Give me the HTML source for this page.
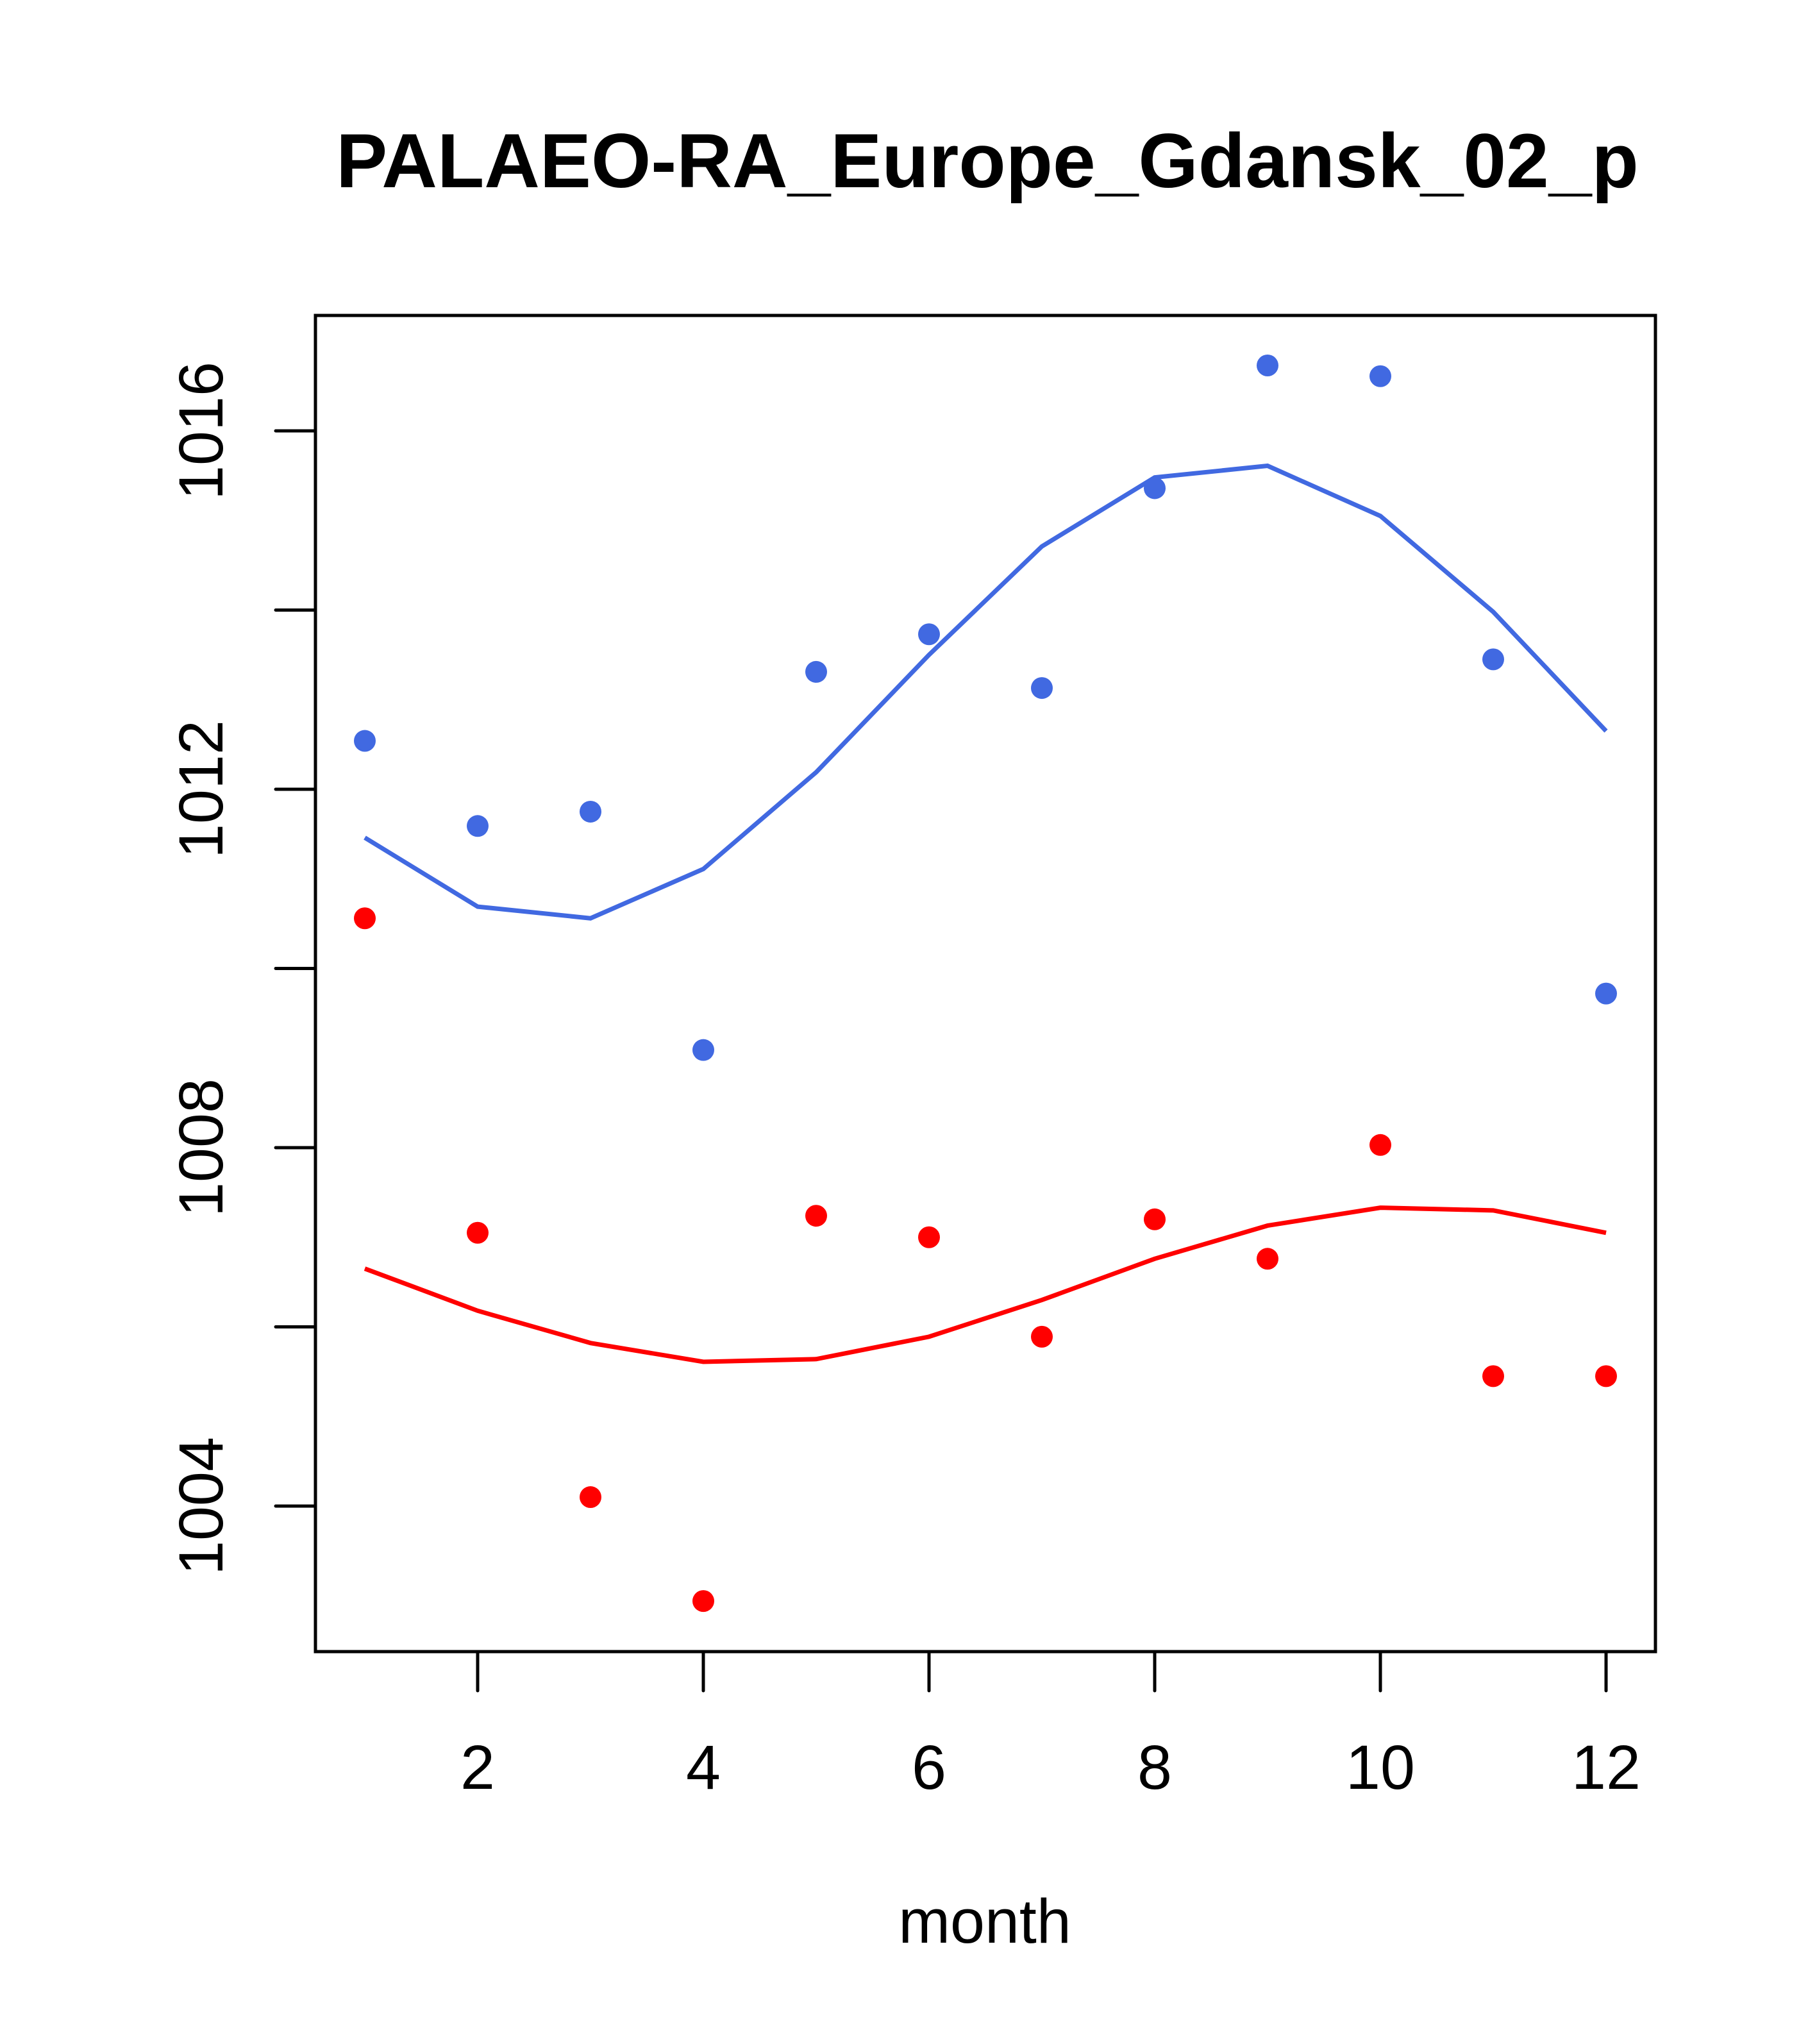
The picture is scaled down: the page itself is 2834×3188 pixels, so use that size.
<!DOCTYPE html>
<html><head><meta charset="utf-8"><style>html,body{margin:0;padding:0;background:#fff}svg{display:block}text{font-family:"Liberation Sans",sans-serif}</style></head>
<body>
<svg id="chart" width="2834" height="3188" viewBox="0 0 2834 3188" xmlns="http://www.w3.org/2000/svg">
<text x="1540" y="292" font-size="120" font-weight="bold" text-anchor="middle">PALAEO-RA_Europe_Gdansk_02_p</text>
<rect x="492" y="492" width="2090" height="2084" fill="none" stroke="#000" stroke-width="5"/>
<text x="1536" y="3030" font-size="97" text-anchor="middle">month</text>
<g id="xaxis"></g>
<g id="yaxis"></g>
<g id="series"></g>
</svg>
<script>
const months = [1,2,3,4,5,6,7,8,9,10,11,12];
const bluePoints = [1012.54,1011.59,1011.75,1009.09,1013.31,1013.73,1013.13,1015.36,1016.73,1016.61,1013.45,1009.72];
const blueLine = [1011.46,1010.69,1010.56,1011.11,1012.19,1013.5,1014.71,1015.48,1015.61,1015.05,1013.98,1012.65];
const redPoints = [1010.56,1007.05,1004.1,1002.94,1007.24,1007.0,1005.89,1007.2,1006.76,1008.03,1005.45,1005.45];
const redLine = [1006.65,1006.18,1005.82,1005.61,1005.64,1005.89,1006.3,1006.76,1007.13,1007.33,1007.3,1007.05];
const xTicks = [2,4,6,8,10,12];
const yTicks = [1004,1006,1008,1010,1012,1014,1016];
const yLabels = [1004,1008,1012,1016];

const NS = "http://www.w3.org/2000/svg";
function xs(m){ return 745 + (m-2)*176; }
function ys(v){ return 672 + (1016 - v)*139.75; }
function mk(tag, attrs, parent){
  const e = document.createElementNS(NS, tag);
  for (const k in attrs) e.setAttribute(k, attrs[k]);
  parent.appendChild(e);
  return e;
}
const xa = document.getElementById('xaxis');
const ya = document.getElementById('yaxis');
const sg = document.getElementById('series');

xTicks.forEach(t => {
  const l = mk('line', {x1:xs(t), x2:xs(t), y1:2576, y2:2637, stroke:'#000','stroke-width':5,'stroke-linecap':'round'}, xa);
  
  
  const tx = mk('text', {x:xs(t), y:2790, 'font-size':97, 'text-anchor':'middle'}, xa);
  tx.textContent = t;
  
  
});
yTicks.forEach(t => {
  const l = mk('line', {x1:430, x2:492, y1:ys(t), y2:ys(t), stroke:'#000','stroke-width':5,'stroke-linecap':'round'}, ya);
  
  
});
yLabels.forEach(t => {
  const tx = mk('text', {x:0, y:0, 'font-size':97, 'text-anchor':'middle', transform:`translate(347,${ys(t)}) rotate(-90)`}, ya);
  tx.textContent = t;
  
  
});

function drawLine(vals, color, name){
  const p = mk('polyline', {points: vals.map((v,i)=>xs(months[i])+','+ys(v)).join(' '), fill:'none', stroke:color, 'stroke-width':7}, sg);
  
  
}
function drawPoints(vals, color, name){
  vals.forEach((v,i) => {
    const c = mk('circle', {cx:xs(months[i]), cy:ys(v), r:17, fill:color}, sg);
    
    
  });
}
drawLine(blueLine, '#4169E1', 'blue-smooth-line');
drawLine(redLine, '#FF0000', 'red-smooth-line');
drawPoints(bluePoints, '#4169E1', 'blue-point');
drawPoints(redPoints, '#FF0000', 'red-point');
</script>
</body></html>
